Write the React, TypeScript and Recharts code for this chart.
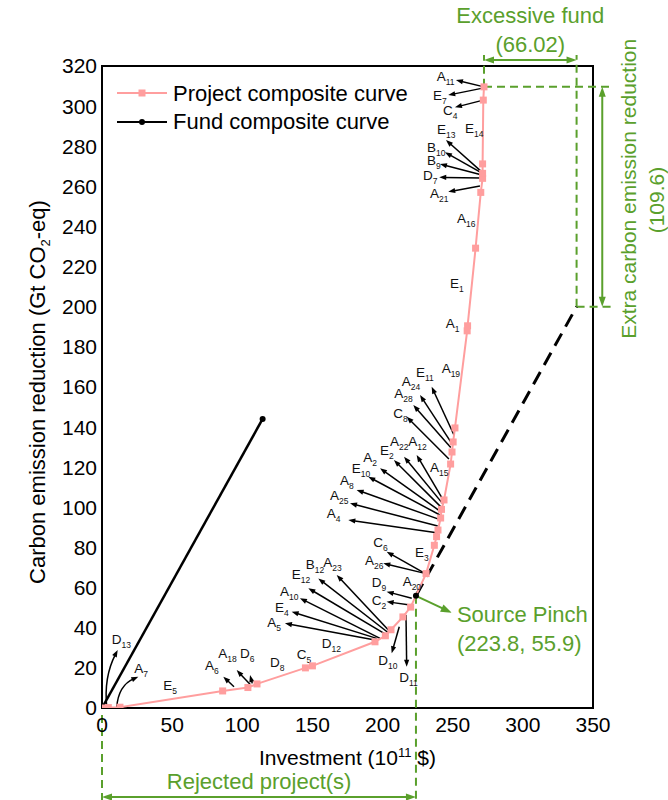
import { LineChart, Line, XAxis, YAxis, ReferenceLine, ReferenceDot, ReferenceArea, Legend } from 'recharts';

const FONT = 'Arial, "Liberation Sans", sans-serif';
const PINK = '#ff9e9e';
const GREEN = '#5aa02c';

const xTicks = [0, 50, 100, 150, 200, 250, 300, 350];
const yTicks = [0, 20, 40, 60, 80, 100, 120, 140, 160, 180, 200, 220, 240, 260, 280, 300, 320];

// project composite curve (vertices)
const projectX = [0, 4.5, 12.8, 86, 104, 110.5, 145, 150, 194.6, 202, 206, 214.5, 220, 231, 236.9, 238.5, 239.5, 241.4, 242, 243.8, 248.5, 249.5, 250.3, 251.6, 260.3, 260.6, 266.3, 270, 271.3, 271.3, 271.3, 271.8, 272.3];
const projectY = [0, 0.2, 0.4, 8.5, 10.2, 12, 20, 21, 33, 36, 39, 45.4, 50.3, 67, 81.1, 85.4, 88.7, 94.7, 99, 103.7, 121.6, 127.6, 132.6, 139.6, 188, 190.5, 229.2, 257, 264, 266.5, 271.2, 303, 309.6];

// fund composite curve and the same curve shifted to the pinch
const fundX = [0, 114.5];
const fundY = [0, 144.1];
const shiftedFundX = [223.8, 338.3];
const shiftedFundY = [55.9, 200];

// project labels: letter, subscript, x, y (data units, text start / baseline)
const projectLabels: [string, string, number, number][] = [
  ['A', '11', 238.6, 312.5], ['E', '7', 235.9, 303.0], ['C', '4', 243.1, 295.8],
  ['E', '13', 238.8, 286.0], ['B', '10', 231.7, 277.0], ['B', '9', 231.7, 270.9],
  ['D', '7', 228.8, 263.2], ['A', '21', 233.8, 254.2], ['E', '14', 258.7, 286.6],
  ['A', '16', 253.0, 241.7], ['E', '1', 248.1, 209.3], ['A', '1', 245.0, 189.2],
  ['A', '19', 242.1, 167.0], ['E', '11', 223.8, 165.1], ['A', '24', 213.6, 160.5],
  ['A', '28', 208.4, 154.4], ['C', '8', 207.6, 144.4], ['A', '12', 218.3, 130.6],
  ['A', '22', 205.3, 130.6], ['E', '2', 198.2, 126.1], ['A', '2', 186.3, 122.8],
  ['E', '10', 178.0, 117.3], ['A', '8', 169.6, 111.1], ['A', '25', 162.5, 103.7],
  ['A', '4', 160.2, 94.5], ['A', '15', 233.8, 117.8], ['C', '6', 193.4, 80.4],
  ['E', '3', 223.1, 75.4], ['A', '26', 187.5, 71.3], ['A', '20', 214.3, 60.8],
  ['D', '9', 192.2, 60.2], ['C', '2', 192.2, 51.3], ['B', '12', 145.2, 69.1],
  ['A', '23', 157.7, 70.1], ['E', '12', 135.2, 64.1], ['A', '10', 126.9, 55.8],
  ['E', '4', 123.3, 48.0], ['A', '5', 117.8, 40.5], ['D', '12', 156.6, 29.8],
  ['D', '10', 196.9, 21.4], ['D', '11', 211.9, 13.1], ['D', '8', 119.8, 20.3],
  ['C', '5', 138.8, 24.3], ['D', '6', 98.4, 24.8], ['A', '18', 82.9, 24.8],
  ['A', '6', 73.4, 18.9], ['E', '5', 43.7, 9.0], ['D', '13', 6.9, 31.9],
  ['A', '7', 23.0, 17.3],
];

// black arrows: tail x, tail y, tip x, tip y, bend
const labelArrows: [number, number, number, number, number][] = [
  [272.3, 309.6, 252.3, 313.0, 0], [272.3, 309.1, 246.8, 305.5, 0], [271.8, 303, 251.6, 299.4, 0],
  [270.9, 267.1, 245.2, 283.1, 0], [270.9, 266.6, 244.5, 277.0, 0], [270.9, 265.7, 240.9, 271.1, 0],
  [270.9, 264.2, 240.4, 264.5, 0], [269.4, 260.2, 246.8, 257.3, 0],
  [250.9, 136.1, 235.0, 160.1, 0], [249.3, 131.9, 226.7, 156.0, 0], [248.6, 129.9, 221.9, 151.0, 0],
  [247.3, 124.1, 217.2, 145.2, 0], [244.0, 102.8, 224.3, 126.1, 0], [243.3, 101.5, 215.3, 125.2, 0],
  [242.6, 99.5, 208.1, 123.6, 0], [241.6, 97.8, 198.2, 119.5, 0], [240.9, 96.2, 189.8, 115.3, 0],
  [240.4, 94.0, 181.5, 108.7, 0], [239.3, 90.7, 176.8, 102.0, 0], [238.6, 87.4, 175.6, 93.7, 0],
  [230.2, 67.1, 202.9, 77.9, 0], [230.2, 67.1, 200.5, 72.1, 0], [220.8, 54.7, 202.9, 58.0, 0],
  [219.5, 51.3, 202.9, 53.0, 0], [205.3, 38.0, 167.3, 66.3, 0], [204.1, 37.5, 154.2, 64.6, 0],
  [202.9, 36.4, 147.1, 59.7, 0], [198.2, 34.7, 141.1, 54.7, 0], [195.8, 34.7, 135.2, 48.0, 0],
  [194.6, 33.9, 130.4, 42.2, 0], [211.9, 40.5, 206.5, 27.3, 0], [216.7, 46.4, 217.2, 20.6, 0],
  [94.1, 10.6, 86.5, 15.6, 0], [105.5, 11.8, 96.0, 18.9, 0], [107.1, 12.3, 105.5, 16.4, 0],
  [3.4, 0.3, 11.2, 28.9, -0.15], [10.5, 0.3, 25.9, 15.6, -0.3],
];

// green guides
const greenDashes: [number, number, number, number][] = [
  [0, -3.5, 0, -45.9], [223.8, 55.9, 223.8, -45.9],
  [272.3, 309.6, 272.3, 325.5], [338.3, 200, 338.3, 325.5],
  [272.3, 309.6, 363.5, 309.6], [338.3, 200, 363.5, 200],
];
const greenDoubleArrows: [number, number, number, number][] = [
  [0, -44.4, 223.8, -44.4], [272.3, 323.0, 338.3, 323.0], [356.6, 309.6, 356.6, 200],
];
const pinchArrow: [number, number, number, number] = [223.8, 55.9, 249.3, 47.5];

// green texts: text, x, y, anchor, rotated
const greenTexts: [string, number, number, string, boolean][] = [
  ['Excessive fund', 305.3, 341.4, 'middle', false],
  ['(66.02)', 305.3, 327.1, 'middle', false],
  ['Rejected project(s)', 112, -40.5, 'middle', false],
  ['Source Pinch', 253.0, 43.0, 'start', false],
  ['(223.8, 55.9)', 253.0, 28.4, 'start', false],
  ['Extra carbon emission reduction', 380.6, 258.8, 'middle', true],
  ['(109.6)', 400.6, 253.2, 'middle', true],
];

const projectData = projectX.map((x, i) => ({ x, y: projectY[i] }));
const fundData = fundX.map((x, i) => ({ x, y: fundY[i] }));
const shiftedData = shiftedFundX.map((x, i) => ({ x, y: shiftedFundY[i] }));

const makeArrow = (color: string, width: number, bend: number, both: boolean, len = 8, half = 3) => (p: any) => {
  const { x1, y1, x2, y2 } = p;
  const dx = x2 - x1;
  const dy = y2 - y1;
  const d = Math.hypot(dx, dy) || 1;
  const cx = (x1 + x2) / 2 + bend * -dy;
  const cy = (y1 + y2) / 2 + bend * dx;
  const head = (tx: number, ty: number, fx: number, fy: number) => {
    const l = Math.hypot(tx - fx, ty - fy) || 1;
    const ux = (tx - fx) / l;
    const uy = (ty - fy) / l;
    return `${tx},${ty} ${tx - len * ux + half * uy},${ty - len * uy - half * ux} ${tx - len * ux - half * uy},${ty - len * uy + half * ux}`;
  };
  const ex = bend ? x2 - cx : dx;
  const ey = bend ? y2 - cy : dy;
  const el = Math.hypot(ex, ey) || 1;
  const endX = x2 - (ex / el) * len * 0.7;
  const endY = y2 - (ey / el) * len * 0.7;
  const startX = both ? x1 + (dx / d) * len * 0.7 : x1;
  const startY = both ? y1 + (dy / d) * len * 0.7 : y1;
  const path = bend ? `M${startX},${startY} Q${cx},${cy} ${endX},${endY}` : `M${startX},${startY} L${endX},${endY}`;
  return (
    <g>
      <path d={path} stroke={color} strokeWidth={width} fill="none" />
      <polygon points={head(x2, y2, bend ? cx : x1, bend ? cy : y1)} fill={color} />
      {both && <polygon points={head(x1, y1, x2, y2)} fill={color} />}
    </g>
  );
};

const squareDot = (p: any) => (
  <rect key={`sq-${p.index}`} x={p.cx - 3.5} y={p.cy - 3.5} width={7} height={7} fill={PINK} />
);

const endDot = (which: number) => (p: any) =>
  p.index === which ? <circle key={`d-${p.index}`} cx={p.cx} cy={p.cy} r={3} fill="#000" /> : <g key={`d-${p.index}`} />;

const renderLegend = () => (
  <div style={{ fontFamily: FONT, fontSize: 22, lineHeight: '28px', color: '#000' }}>
    <div style={{ display: 'flex', alignItems: 'center' }}>
      <svg width={58} height={28}>
        <line x1={2} y1={13} x2={52} y2={13} stroke={PINK} strokeWidth={2} />
        <rect x={23.5} y={9.5} width={7} height={7} fill={PINK} />
      </svg>
      <span>Project composite curve</span>
    </div>
    <div style={{ display: 'flex', alignItems: 'center' }}>
      <svg width={58} height={28}>
        <line x1={2} y1={14} x2={52} y2={14} stroke="#000" strokeWidth={2} />
        <circle cx={27} cy={14} r={3} fill="#000" />
      </svg>
      <span>Fund composite curve</span>
    </div>
  </div>
);

const XTitle = (props: any) => {
  const vb = props.viewBox || { x: 102, y: 708, width: 491 };
  return (
    <text x={vb.x + vb.width / 2} y={vb.y + 57} textAnchor="middle" fontSize={21} fontFamily={FONT} fill="#000">
      Investment (10<tspan dy={-8} fontSize={13}>11</tspan>
      <tspan dy={8}> $)</tspan>
    </text>
  );
};

const YTitle = (props: any) => {
  const vb = props.viewBox || { x: 0, y: 66, width: 102, height: 642 };
  const cx = vb.x + 45;
  const cy = vb.y + vb.height / 2 + 5;
  return (
    <text x={cx} y={cy} transform={`rotate(-90 ${cx} ${cy})`} textAnchor="middle" fontSize={22} fontFamily={FONT} fill="#000">
      Carbon emission reduction (Gt CO<tspan dy={5} fontSize={13}>2</tspan>
      <tspan dy={-5}>-eq)</tspan>
    </text>
  );
};

export default function App() {
  return (
    <div style={{ position: 'absolute', left: 0, top: 0, background: '#fff' }}>
      <LineChart width={668} height={800} margin={{ top: 66, right: 75, bottom: 0, left: 0 }}>
        <XAxis
          type="number"
          dataKey="x"
          domain={[0, 350]}
          ticks={xTicks}
          allowDataOverflow
          height={92}
          axisLine={false}
          tickLine={false}
          tickSize={6}
          tickMargin={3}
          tick={{ fontSize: 21, fill: '#000', fontFamily: FONT }}
          label={{ content: XTitle }}
        />
        <YAxis
          type="number"
          dataKey="y"
          domain={[0, 320]}
          ticks={yTicks}
          allowDataOverflow
          width={102}
          axisLine={false}
          tickLine={false}
          tickSize={3}
          tickMargin={2}
          tick={{ fontSize: 21, fill: '#000', fontFamily: FONT }}
          label={{ content: YTitle }}
        />
        <ReferenceArea x1={0} x2={350} y1={0} y2={320} fill="none" fillOpacity={0} stroke="#000" strokeWidth={2} />
        <Legend layout="vertical" align="center" verticalAlign="middle" content={renderLegend} wrapperStyle={{ top: 80, left: 115, width: 'auto', height: 'auto' }} />

        {greenDashes.map(([x1, y1, x2, y2], i) => (
          <ReferenceLine key={`gd-${i}`} segment={[{ x: x1, y: y1 }, { x: x2, y: y2 }]} stroke={GREEN} strokeWidth={2} strokeDasharray="8 5" ifOverflow="visible" />
        ))}
        {greenDoubleArrows.map(([x1, y1, x2, y2], i) => (
          <ReferenceLine key={`ga-${i}`} segment={[{ x: x1, y: y1 }, { x: x2, y: y2 }]} ifOverflow="visible" shape={makeArrow(GREEN, 2, 0, true, 10, 3.5)} />
        ))}
        <ReferenceLine
          segment={[{ x: pinchArrow[0], y: pinchArrow[1] }, { x: pinchArrow[2], y: pinchArrow[3] }]}
          ifOverflow="visible"
          shape={makeArrow(GREEN, 2, 0, false, 11, 4)}
        />
        {labelArrows.map(([x1, y1, x2, y2, bend], i) => (
          <ReferenceLine key={`la-${i}`} segment={[{ x: x1, y: y1 }, { x: x2, y: y2 }]} ifOverflow="visible" shape={makeArrow('#000', 1.5, bend, false, 7, 2.6)} />
        ))}

        <Line data={fundData} dataKey="y" stroke="#000" strokeWidth={2.5} dot={endDot(1)} activeDot={false} isAnimationActive={false} legendType="none" />
        <Line data={shiftedData} dataKey="y" stroke="#000" strokeWidth={3} strokeDasharray="14 8" dot={endDot(0)} activeDot={false} isAnimationActive={false} legendType="none" />
        <Line data={projectData} dataKey="y" stroke={PINK} strokeWidth={2} dot={squareDot} activeDot={false} isAnimationActive={false} legendType="none" />

        {projectLabels.map(([name, sub, x, y], i) => (
          <ReferenceDot
            key={`pl-${i}`}
            x={x}
            y={y}
            r={0}
            ifOverflow="visible"
            shape={(p: any) => (
              <text x={p.cx} y={p.cy} fontSize={13.5} fontFamily={FONT} fill="#111">
                {name}
                <tspan dy={4} fontSize={8.5}>{sub}</tspan>
              </text>
            )}
          />
        ))}
        {greenTexts.map(([t, x, y, anchor, rot], i) => (
          <ReferenceDot
            key={`gt-${i}`}
            x={x}
            y={y}
            r={0}
            ifOverflow="visible"
            shape={(p: any) => (
              <text
                x={p.cx}
                y={p.cy}
                textAnchor={anchor as any}
                transform={rot ? `rotate(-90 ${p.cx} ${p.cy})` : undefined}
                fontSize={rot ? 21 : 22}
                fontFamily={FONT}
                fill={GREEN}
              >
                {t}
              </text>
            )}
          />
        ))}
      </LineChart>
    </div>
  );
}
